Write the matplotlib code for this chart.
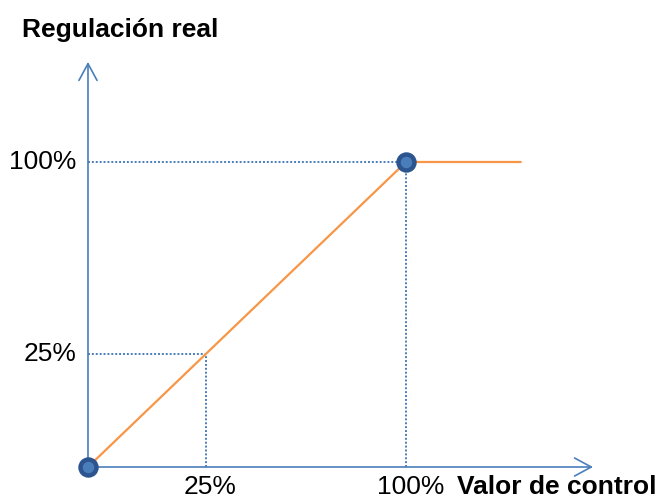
import matplotlib
matplotlib.use('Agg')
import matplotlib.pyplot as plt

# curve: control value -> real regulation (100% = 1.0)
curve_x = [0.0, 1.0, 1.36]
curve_y = [0.0, 1.0, 1.0]
# reference points shown with dotted guides
guide_pos = [0.37, 1.0]
guide_labels = ['25%', '100%']
# marker points
mark_x = [0.0, 1.0]
mark_y = [0.0, 1.0]

blue = '#4A7EBB'
orange = '#F79646'

fig = plt.figure(figsize=(6.59, 4.98), dpi=100)
ax = fig.add_axes([0, 0, 1, 1])
ax.set_xlim(-0.2767, 1.7956)
ax.set_ylim(-0.1016, 1.5311)
ax.axis('off')
plt.rcParams['font.family'] = 'Liberation Sans'

for p, lab in zip(guide_pos, guide_labels):
    ax.plot([0, p], [p, p], color=blue, lw=1.4, ls=(0, (1, 1)), zorder=1)
    ax.plot([p, p], [0, p], color=blue, lw=1.4, ls=(0, (1, 1)), zorder=1)
    ax.text(p + 0.015, -0.087, lab, fontsize=19, ha='center', va='baseline')
    ax.text(-0.037, p, lab, fontsize=19, ha='right', va='center')

ax.plot(curve_x, curve_y, color=orange, lw=1.6, zorder=2)

# axes with open arrow heads
arrow = dict(arrowstyle='->,head_length=1.2,head_width=0.65', color=blue,
             lw=1.2, shrinkA=0, shrinkB=0, mutation_scale=10)
ax.annotate('', xy=(1.588, 0), xytext=(0, 0), arrowprops=arrow, zorder=3)
ax.annotate('', xy=(0, 1.328), xytext=(0, 0), arrowprops=arrow, zorder=3)

ax.plot(mark_x, mark_y, 'o', ms=11.5, mfc='#4A7EBB', mec='#2C5590', mew=3.2, zorder=4)

ax.text(-0.2075, 1.41, 'Regulación real', fontsize=19, fontweight='bold',
        ha='left', va='baseline')
ax.text(1.16, -0.087, 'Valor de control', fontsize=19, fontweight='bold',
        ha='left', va='baseline')

fig.savefig('out.png', dpi=100)
